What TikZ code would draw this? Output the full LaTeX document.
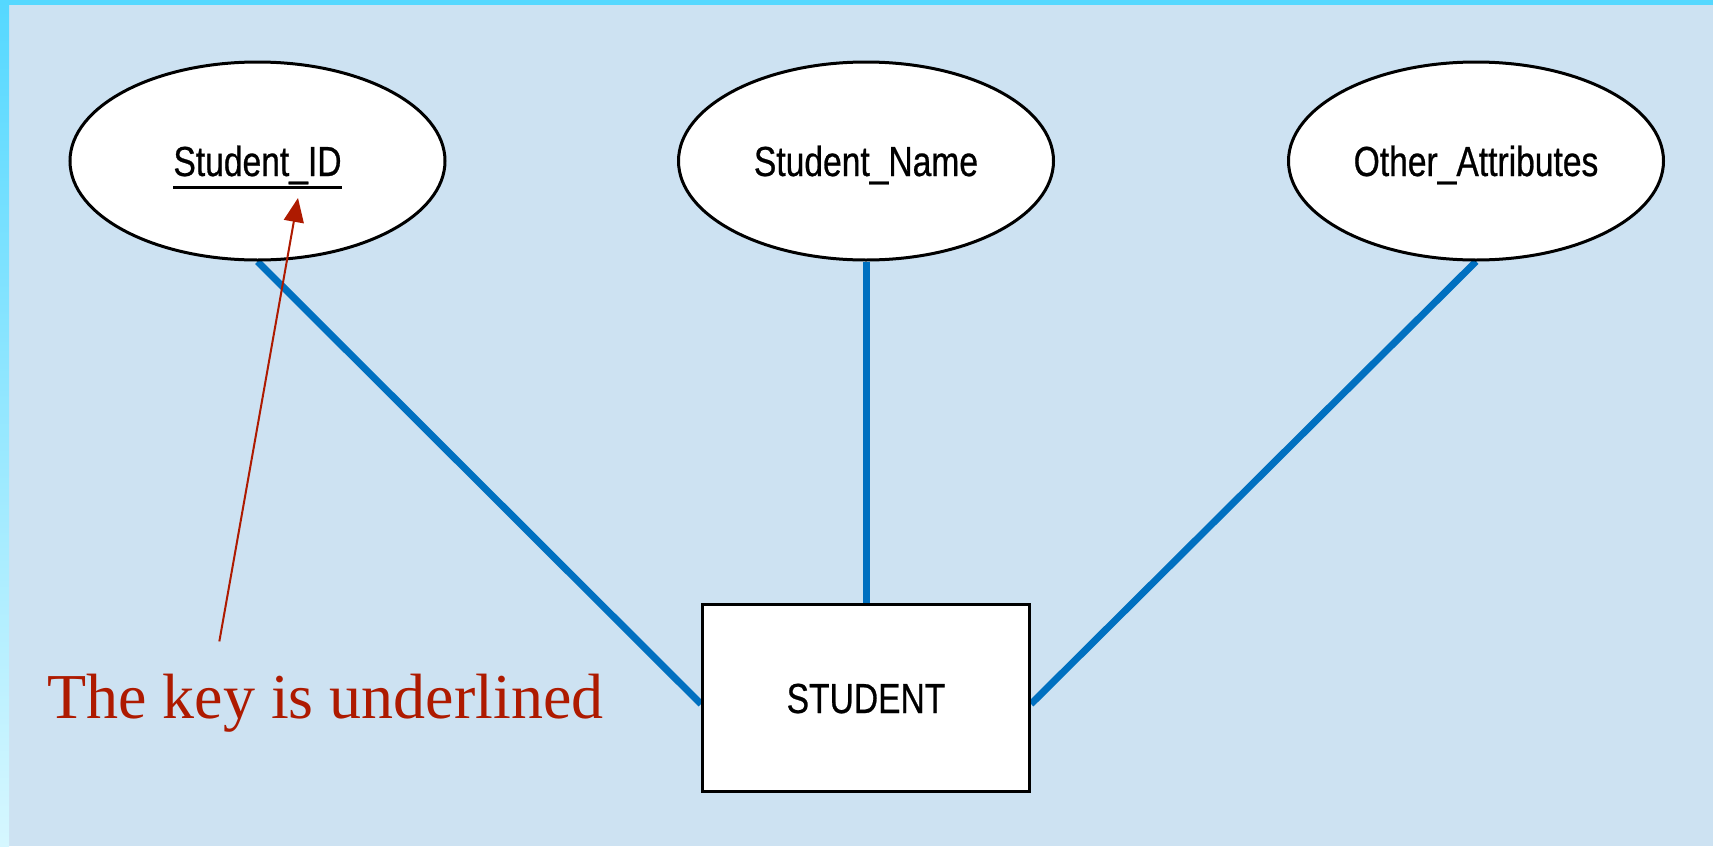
\documentclass[tikz,border=0pt]{standalone}
\usepackage{fontspec}
\setmainfont{Liberation Serif}
\newfontfamily\attrfont[FakeStretch=0.8,FakeBold=0.6]{Liberation Sans}
\usetikzlibrary{shapes.geometric,arrows.meta,backgrounds}

\definecolor{pagebg}{RGB}{205,226,242}
\definecolor{framecyan}{RGB}{85,216,255}
\definecolor{framepale}{RGB}{214,247,255}
\definecolor{linkblue}{RGB}{0,112,192}
\definecolor{notered}{RGB}{174,26,0}

% key attribute: text with a thick rule below it
\newcommand\keyattr[1]{\setbox0\hbox{#1}\hbox{\copy0\llap{\rule[-12.5pt]{\wd0}{3pt}}}}

\tikzset{
  attr/.style={ellipse, draw=black, line width=3pt, fill=white,
    minimum width=375pt, minimum height=198pt, inner sep=0pt,
    text height=30pt, text depth=0pt,
    font=\attrfont\fontsize{42}{50}\selectfont},
  entity/.style={rectangle, draw=black, line width=3pt, fill=white,
    minimum width=327pt, minimum height=187pt, inner sep=0pt,
    text height=30pt, text depth=0pt,
    font=\attrfont\fontsize{42}{50}\selectfont},
  link/.style={draw=linkblue, line width=7pt},
  note/.style={text=notered, inner sep=0pt, font=\fontsize{64}{70}\selectfont},
  pointer/.style={draw=notered, line width=2pt,
    -{Triangle[length=24pt,width=20pt]}},
}

\begin{document}
\begin{tikzpicture}[x=1pt,y=-1pt]
  \useasboundingbox (0,0) rectangle (1713,846);

  % page background and frame bands
  \begin{scope}[on background layer]
    \fill[pagebg] (0,0) rectangle (1713,846);
    \shade[top color=framecyan, bottom color=framepale] (0,0) rectangle (9,846);
    \fill[framecyan] (0,0) rectangle (1713,5);
  \end{scope}

  % attributes
  \node[attr] (id)    at (257.5,161) {\keyattr{Student\_ID}};
  \node[attr] (name)  at (866,161)   {Student\_Name};
  \node[attr] (other) at (1476,161)  {Other\_Attributes};

  % entity
  \node[entity] (ent) at (866,698) {STUDENT};

  % attribute links
  \begin{scope}[on background layer]
    \draw[link] (id.south) -- ([yshift=-6pt]ent.west);
    \draw[link] (name.south) -- (ent.north);
    \draw[link] (other.south) -- ([yshift=-6pt]ent.east);
  \end{scope}

  % annotation
  \node[note, anchor=base west] (keynote) at (47,718) {The key is underlined};
  \coordinate (keytip) at (298,198);
  \draw[pointer] ([shift={(-106,-32)}]keynote.north) -- (keytip);
\end{tikzpicture}
\end{document}
